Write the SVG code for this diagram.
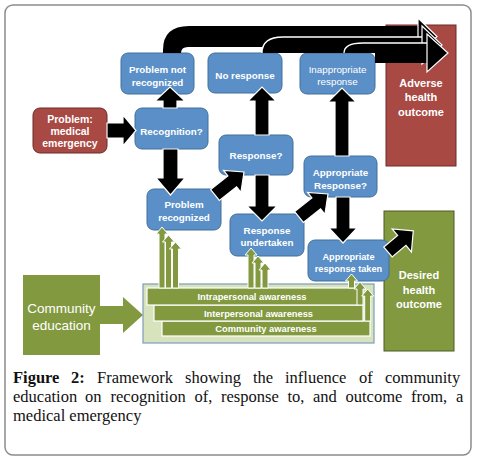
<svg xmlns="http://www.w3.org/2000/svg" width="477" height="461" viewBox="0 0 477 461">
<defs>
<style>
.frame{fill:#fff;stroke:#8c8c8c;stroke-width:1.5}
.n{fill:#5b8fc8;stroke:#41719c;stroke-width:1}
.r{fill:#a84943;stroke:#6b2c28;stroke-width:1}
.g{fill:#829940;stroke:#4d5a26;stroke-width:1}
.bar{fill:#829940;stroke:#fff;stroke-width:1.2}
.box{fill:#d6e3bd;stroke:#7d9bbd;stroke-width:1.2}
.t{font-family:"Liberation Sans",Arial,sans-serif;font-weight:bold;font-size:9.8px;fill:#fff;text-anchor:middle}
.tn{font-weight:normal}
.big{font-size:11px}
.bt{font-family:"Liberation Sans",Arial,sans-serif;font-weight:bold;font-size:9.3px;fill:#fff;text-anchor:middle}
.ba{fill:#000;stroke:#fff;stroke-width:1.2;stroke-linejoin:miter}
.bk{fill:#000}
.wl{fill:none;stroke:#fff;stroke-width:1.3}
.ga{fill:#829940;stroke:#fff;stroke-width:1}
.cap{font-family:"Liberation Serif","Times New Roman",serif;font-size:16.5px;fill:#111}
</style>
</defs>
<rect class="frame" x="5" y="5" width="466" height="450" rx="8"/>

<g id="adverse-health-outcome">
<rect class="r" x="386" y="25" width="70" height="141"/>
<text class="t big" x="421" y="87">Adverse</text>
<text class="t big" x="421" y="101">health</text>
<text class="t big" x="421" y="116">outcome</text>
</g>
<g id="desired-health-outcome">
<rect class="g" x="384" y="211" width="70" height="140"/>
<text class="t big" x="419" y="279">Desired</text>
<text class="t big" x="419" y="294">health</text>
<text class="t big" x="419" y="308">outcome</text>
</g>
<g id="problem-not-recognized">
<rect class="n" x="121" y="53" width="73" height="41" rx="7"/>
<text class="t" x="157.5" y="72.5">Problem not</text>
<text class="t" x="157.5" y="85.5">recognized</text>
</g>
<g id="no-response">
<rect class="n" x="208" y="53" width="74" height="40" rx="7"/>
<text class="t" x="245" y="79">No response</text>
</g>
<g id="inappropriate-response">
<rect class="n" x="300" y="53" width="75" height="41" rx="7"/>
<text class="t tn" x="337.5" y="72.5">Inappropriate</text>
<text class="t tn" x="337.5" y="85">response</text>
</g>
<g id="problem-medical-emergency">
<rect class="r" x="33" y="108" width="74" height="45" rx="7"/>
<text class="t" style="font-size:10.5px" x="70" y="123">Problem:</text>
<text class="t" style="font-size:10.5px" x="70" y="135">medical</text>
<text class="t" style="font-size:10.5px" x="70" y="147">emergency</text>
</g>
<g id="recognition">
<rect class="n" x="135" y="108" width="73" height="41" rx="7"/>
<text class="t" x="171.5" y="134.5">Recognition?</text>
</g>
<g id="response-q">
<rect class="n" x="219" y="135" width="74" height="40" rx="7"/>
<text class="t" x="256" y="158.5">Response?</text>
</g>
<g id="appropriate-response-q">
<rect class="n" x="304" y="156" width="73" height="41" rx="7"/>
<text class="t" x="340.5" y="176">Appropriate</text>
<text class="t" x="340.5" y="189">Response?</text>
</g>
<g id="problem-recognized">
<rect class="n" x="147" y="189" width="74" height="41" rx="7"/>
<text class="t" x="184" y="207.5">Problem</text>
<text class="t" x="184" y="220.5">recognized</text>
</g>
<g id="response-undertaken">
<rect class="n" x="230" y="214" width="74" height="42" rx="7"/>
<text class="t" x="267" y="233.5">Response</text>
<text class="t" x="267" y="246">undertaken</text>
</g>
<g id="appropriate-response-taken">
<rect class="n" x="308" y="240" width="81" height="41" rx="7"/>
<text class="t" style="font-size:9.2px" x="348.5" y="259.5">Appropriate</text>
<text class="t" style="font-size:9.2px" x="348.5" y="272">response taken</text>
</g>
<g id="community-education">
<rect x="23" y="275" width="77" height="80" fill="#829940"/>
<text class="t tn" style="font-size:13.5px" x="61.5" y="313">Community</text>
<text class="t tn" style="font-size:13.5px" x="61.5" y="330">education</text>
</g>
<g id="awareness">
<rect class="box" x="143" y="284" width="231" height="59"/>
<rect class="bar" x="162" y="321" width="208" height="15"/>
<text class="bt" x="266" y="332">Community awareness</text>
<rect class="bar" x="154" y="305" width="209" height="16"/>
<text class="bt" x="258.5" y="316.5">Interpersonal awareness</text>
<rect class="bar" x="147" y="288" width="211" height="17"/>
<text class="bt" x="252" y="300">Intrapersonal awareness</text>
</g>

<g id="connectors">
<path class="bk" d="M163,53 V50 Q163,26 189,26 H419 V47 H188 Q181,47 181,53 Z"/>
<polygon class="ba" points="418,18 437,36.5 418,55"/>
<path class="bk" d="M262,53 C262,43 268,37 283,37 H423 V53 Z"/>
<path class="wl" d="M262,53 C262,43 268,37 283,37 H423"/>
<polygon class="ba" points="422,26 442,45 422,64"/>
<path class="bk" d="M344,53 C344,47 350,43 363,43 H428 V63 H375 V53 Z"/>
<path class="wl" d="M344,53 C344,47 350,43 363,43 H428"/>
<polygon class="ba" points="427,34 448,53 427,72"/>

<polygon class="ba" points="107,123 123,123 123,115 136,130.5 123,146 123,138 107,138"/>
<polygon class="ba" points="163,108 163,101 155,101 170,87 185,101 177,101 177,108"/>
<polygon class="ba" points="163,149 178,149 178,178 185,178 170.5,195 156,178 163,178"/>
<polygon class="ba" points="255,135 255,101 248,101 262,87 276,101 269,101 269,135"/>
<polygon class="ba" points="255,175 269,175 269,206 277,206 262,221 247,206 255,206"/>
<polygon class="ba" points="335,156 335,102 328,102 342,88 356,102 349,102 349,156"/>
<polygon class="ba" points="336,197 350,197 350,228 357,228 343,243 329,228 336,228"/>
<polygon class="ba" transform="translate(215,195) rotate(-38.4)" points="0,-7 22,-7 22,-14 37,0 22,14 22,7 0,7"/>
<polygon class="ba" transform="translate(299,217) rotate(-38.4)" points="0,-7 22,-7 22,-14 37,0 22,14 22,7 0,7"/>
<polygon class="ba" transform="translate(388,252) rotate(-40)" points="0,-6.5 18,-6.5 18,-15 33,0 18,15 18,6.5 0,6.5"/>

<polygon fill="#829940" points="99,306 123,306 123,297 143,315 123,333 123,324 99,324"/>

<polygon class="ga" points="159,288 159,234 156,234 162,227 168,234 165,234 165,288"/>
<polygon class="ga" points="165.5,288 165.5,242 162.5,242 168.5,235 174.5,242 171.5,242 171.5,288"/>
<polygon class="ga" points="172.5,288 172.5,249 169.5,249 175.5,242 181.5,249 178.5,249 178.5,288"/>

<polygon class="ga" points="248,288 248,255 245,255 251,248 257,255 254,255 254,288"/>
<polygon class="ga" points="255,288 255,263 252,263 258,256 264,263 261,263 261,288"/>
<polygon class="ga" points="262,288 262,270 259,270 265,263 271,270 268,270 268,288"/>

<polygon class="ga" points="348.5,288 348.5,281 345.5,281 351.5,274 357.5,281 354.5,281 354.5,288"/>
<polygon class="ga" points="357,305 357,289 354,289 360,282 366,289 363,289 363,305"/>
<polygon class="ga" points="364.7,321 364.7,296 361.7,296 367.7,289 373.7,296 370.7,296 370.7,321"/>
</g>

<g id="caption">
<text class="cap" y="383"><tspan x="13" font-weight="bold">Figure</tspan><tspan x="71" font-weight="bold">2:</tspan><tspan x="97">Framework</tspan><tspan x="185">showing</tspan><tspan x="253">the</tspan><tspan x="285">influence</tspan><tspan x="359">of</tspan><tspan x="385">community</tspan></text>
<text class="cap" y="402"><tspan x="13">education</tspan><tspan x="85">on</tspan><tspan x="110.5">recognition</tspan><tspan x="194.5">of,</tspan><tspan x="221">response</tspan><tspan x="287.5">to,</tspan><tspan x="313">and</tspan><tspan x="345.5">outcome</tspan><tspan x="411">from,</tspan><tspan x="456">a</tspan></text>
<text class="cap" x="13" y="421">medical emergency</text>
</g>
</svg>
